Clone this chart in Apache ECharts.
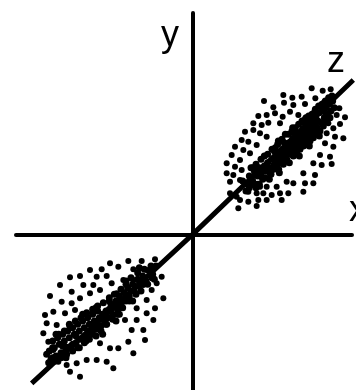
<!DOCTYPE html>
<html>
<head>
<meta charset="utf-8">
<script src="https://cdn.jsdelivr.net/npm/echarts@6/dist/echarts.min.js"></script>
<style>
  html, body { margin: 0; padding: 0; background: #fff; }
  #chart { width: 356px; height: 390px; }
</style>
</head>
<body>
<div id="chart"></div>
<script>
// Axis labels
const axisNames = ['x', 'y', 'z'];

// Principal direction z through the origin
const zAxisLine = [[-483, -447], [0, 0], [482, 463]];

// Upper cluster: scattered outer points
const upperOuter = [
  [357,438],[390,431],[414,435],[272,418],[299,410],[327,413],[368,408],[412,403],
  [214,400],[242,381],[274,395],[302,388],[337,391],[440,378],[197,355],[222,358],
  [247,363],[270,353],[292,368],[317,358],[407,358],[432,358],[457,351],[182,333],
  [207,328],[227,335],[262,333],[407,333],[442,331],[422,318],[157,308],[182,313],
  [202,303],[222,293],[402,303],[427,293],[452,288],[147,283],[167,278],[192,268],
  [397,273],[422,263],[127,263],[152,253],[172,243],[117,238],[142,223],[382,238],
  [412,233],[362,213],[387,208],[417,211],[102,213],[127,203],[147,193],[102,183],
  [122,178],[332,183],[367,178],[112,158],[142,163],[282,158],[302,153],[337,153],
  [362,153],[182,148],[202,143],[222,143],[252,143],[112,123],[132,113],[167,128],
  [192,123],[212,123],[237,118],[262,123],[287,123],[332,128],[142,103],[167,98],
  [197,103],[222,103],[267,103],[137,78],[192,85]
];

// Upper cluster: dense core along z
const upperCore = [
  [150,160],[165,150],[170,175],[180,160],[185,190],[195,175],[200,200],[205,180],
  [210,165],[215,205],[220,190],[225,215],[230,200],[235,180],[240,225],[245,210],
  [250,235],[255,220],[258,195],[262,245],[265,230],[270,255],[272,210],[275,240],
  [280,265],[282,225],[285,250],[290,275],[293,240],[296,260],[300,285],[303,250],
  [306,270],[310,295],[313,262],[316,280],[320,305],[323,270],[326,292],[330,315],
  [333,282],[336,300],[340,325],[343,290],[346,310],[350,335],[353,300],[356,320],
  [360,345],[363,310],[366,330],[370,355],[373,320],[376,340],[380,365],[385,335],
  [390,370],[395,350],[400,380],[405,360],[410,390],[415,370],[420,400],[200,150],
  [230,165],[260,185],[290,215],[320,235],[350,265],[380,295],[175,200],[215,235],
  [255,270],[300,320],[340,350],[190,140],[160,130],
  [170,140],[180,200],[190,210],[195,150],[205,225],[210,195],[218,170],[225,240],
  [232,185],[238,255],[243,195],[248,260],[252,205],[257,280],[263,215],[268,285],
  [273,230],[278,300],[283,245],[288,300],[292,255],[298,310],[302,235],[308,320],
  [312,245],[318,330],[322,255],[328,340],[332,265],[338,345],[342,270],[348,355],
  [352,280],[358,360],[362,290],[368,375],[372,300],[378,385],[382,310],[388,390],
  [392,325],[398,400],[402,340],[408,410],[412,350],[418,415],[425,380],[245,250],
  [275,275],[305,305],[335,335],[365,365],[395,395],[225,195],[260,220],[295,255],
  [330,290],[365,325],[400,355]
];

// Lower cluster: scattered outer points
const lowerOuter = [
  [-113,-75],[-153,-80],[-193,-80],[-223,-97],[-248,-87],[-273,-105],[-308,-107],
  [-338,-125],[-368,-129],[-288,-127],[-258,-125],[-178,-105],[-138,-107],[-93,-127],
  [-123,-132],[-398,-152],[-363,-172],[-328,-152],[-298,-152],[-278,-167],[-243,-147],
  [-208,-137],[-178,-137],[-148,-152],[-108,-147],[-428,-185],[-393,-202],[-363,-207],
  [-338,-192],[-308,-177],[-228,-177],[-123,-167],[-88,-192],[-443,-242],[-418,-232],
  [-383,-237],[-353,-227],[-138,-197],[-113,-222],[-138,-237],[-168,-222],[-438,-267],
  [-408,-272],[-448,-297],[-433,-322],[-418,-347],[-378,-337],[-403,-382],[-378,-392],
  [-348,-387],[-318,-377],[-288,-377],[-258,-382],[-238,-402],[-338,-427],[-368,-412],
  [-278,-327],[-248,-342],[-223,-342],[-178,-357],[-193,-322],[-143,-317],[-148,-287],
  [-183,-287],[-168,-257],[-203,-257],[-118,-257]
];

// Lower cluster: dense core along z
const lowerCore = [
  [-110,-95],[-120,-120],[-130,-110],[-140,-140],[-150,-125],[-160,-155],[-165,-135],
  [-175,-170],[-180,-150],[-190,-185],[-195,-160],[-200,-200],[-205,-175],[-215,-210],
  [-220,-185],[-225,-225],[-230,-200],[-240,-240],[-245,-210],[-250,-225],[-255,-250],
  [-260,-230],[-265,-260],[-270,-240],[-275,-275],[-280,-250],[-285,-230],[-290,-285],
  [-295,-260],[-300,-240],[-305,-295],[-310,-270],[-315,-250],[-320,-305],[-325,-280],
  [-330,-260],[-335,-315],[-340,-290],[-345,-270],[-350,-325],[-355,-300],[-360,-280],
  [-365,-335],[-370,-310],[-375,-290],[-380,-345],[-385,-320],[-390,-300],[-395,-355],
  [-400,-330],[-405,-310],[-410,-365],[-415,-340],[-420,-320],[-425,-375],[-430,-350],
  [-300,-300],[-340,-340],[-380,-370],[-260,-270],[-220,-240],[-180,-200],[-250,-200],
  [-290,-220],[-330,-240],[-370,-270],[-410,-300],[-200,-140],[-160,-100],
  [-115,-135],[-125,-95],[-135,-150],[-145,-105],[-155,-170],[-165,-115],[-170,-180],
  [-185,-130],[-190,-200],[-200,-150],[-210,-220],[-215,-165],[-225,-240],[-235,-180],
  [-240,-255],[-250,-190],[-258,-270],[-268,-205],[-275,-290],[-285,-215],[-290,-305],
  [-300,-225],[-310,-315],[-318,-235],[-325,-325],[-335,-250],[-345,-340],[-352,-260],
  [-360,-350],[-368,-275],[-378,-360],[-385,-290],[-395,-370],[-402,-300],[-412,-380],
  [-420,-340],[-432,-385],[-438,-360],[-280,-280],[-320,-320],[-360,-330],[-240,-220],
  [-200,-185],[-160,-140],[-270,-300],[-230,-260],[-310,-290],[-350,-305],[-390,-335],
  [-420,-370]
];

const chart = echarts.init(document.getElementById('chart'), null, { renderer: 'canvas' });

const axisCommon = {
  type: 'value',
  axisLine: { show: true, onZero: true, lineStyle: { color: '#000', width: 4, cap: 'round' } },
  axisTick: { show: false },
  axisLabel: { show: false },
  splitLine: { show: false }
};

const dotStyle = { color: '#000', opacity: 1 };
const labelFont = '"Liberation Sans", Arial, sans-serif';

chart.setOption({
  animation: false,
  backgroundColor: '#fff',
  grid: { left: 16, right: 4, top: 13, bottom: 0 },
  xAxis: Object.assign({}, axisCommon, { min: -530, max: 478 }),
  yAxis: Object.assign({}, axisCommon, { min: -467, max: 664 }),
  series: [
    {
      type: 'line',
      data: zAxisLine,
      symbol: 'none',
      clip: false,
      lineStyle: { color: '#000', width: 5 },
      z: 3
    },
    { type: 'scatter', data: upperOuter, symbolSize: 6, itemStyle: dotStyle, z: 4 },
    { type: 'scatter', data: upperCore, symbolSize: 7, itemStyle: dotStyle, z: 4 },
    { type: 'scatter', data: lowerOuter, symbolSize: 6, itemStyle: dotStyle, z: 4 },
    { type: 'scatter', data: lowerCore, symbolSize: 7, itemStyle: dotStyle, z: 4 }
  ],
  graphic: [
    { type: 'text', left: 349, top: 193, style: { text: axisNames[0], font: '36px ' + labelFont, fill: '#000' } },
    { type: 'text', left: 161, top: 18, style: { text: axisNames[1], font: '36px ' + labelFont, fill: '#000' } },
    { type: 'text', left: 327, top: 44, style: { text: axisNames[2], font: '36px ' + labelFont, fill: '#000' } }
  ]
});
</script>
</body>
</html>
